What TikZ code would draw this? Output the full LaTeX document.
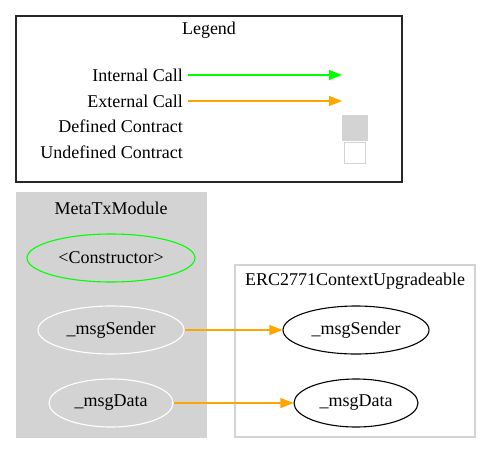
\documentclass[tikz,border=0pt]{standalone}
\usepackage{fontspec}
\setmainfont{Liberation Serif}
\usetikzlibrary{shapes.geometric,arrows.meta}
\definecolor{gvgreen}{RGB}{0,255,0}
\definecolor{gvorange}{RGB}{255,165,0}
\definecolor{gvgray}{RGB}{211,211,211}
\tikzset{
  lbl/.style={font=\fontsize{18}{20}\selectfont, inner sep=0pt},
  fn/.style={ellipse, draw, line width=1.1pt, minimum height=48pt, inner sep=0pt, font=\fontsize{18}{20}\selectfont},
  callarrow/.style={line width=1.2pt, -{Triangle[length=13pt,width=10pt]}},
}
\begin{document}
\begin{tikzpicture}[x=1pt,y=-1pt]
\useasboundingbox (0,0) rectangle (482,453);
% Legend
\draw[line width=1.1pt, black!85] (16,16) rectangle (402,182);
\node[lbl] (legtitle) at (209,30) {Legend};
\node[lbl, anchor=east] (ic) at (183,75) {Internal Call};
\node[lbl, anchor=east] (ec) at (183,101) {External Call};
\node[lbl, anchor=east] (dc) at (183,126) {Defined Contract};
\node[lbl, anchor=east] (uc) at (183,152) {Undefined Contract};
\coordinate (icA) at (188,75); \coordinate (icB) at (342,75);
\coordinate (ecA) at (188,101); \coordinate (ecB) at (342,101);
\draw[callarrow, gvgreen] (icA) -- (icB);
\draw[callarrow, gvorange] (ecA) -- (ecB);
\node[fill=gvgray, draw=gvgray, minimum width=25pt, minimum height=25pt, inner sep=0pt] (dbox) at (355,127.5) {};
\node[fill=white, draw=gvgray, line width=1.1pt, minimum width=21pt, minimum height=21pt, inner sep=0pt] (ubox) at (355,153) {};
% MetaTxModule cluster
\fill[gvgray] (16,192) rectangle (207,438);
\node[lbl] (mtitle) at (111,208) {MetaTxModule};
\node[fn, draw=gvgreen, minimum width=168pt] (ctor) at (111,258) {<Constructor>};
\node[fn, draw=white, minimum width=146pt] (ms) at (111,330) {\_msgSender};
\node[fn, draw=white, minimum width=124pt] (md) at (111,403) {\_msgData};
% ERC2771ContextUpgradeable cluster
\draw[gvgray, line width=1.1pt] (235,265) rectangle (475,437);
\node[lbl] (etitle) at (355,281) {ERC2771ContextUpgradeable};
\node[fn, draw=black, minimum width=146pt] (ems) at (356,330) {\_msgSender};
\node[fn, draw=black, minimum width=124pt] (emd) at (356,403) {\_msgData};
% calls
\draw[callarrow, gvorange] (ms) -- (ems);
\draw[callarrow, gvorange] (md) -- (emd);
\end{tikzpicture}
\end{document}
